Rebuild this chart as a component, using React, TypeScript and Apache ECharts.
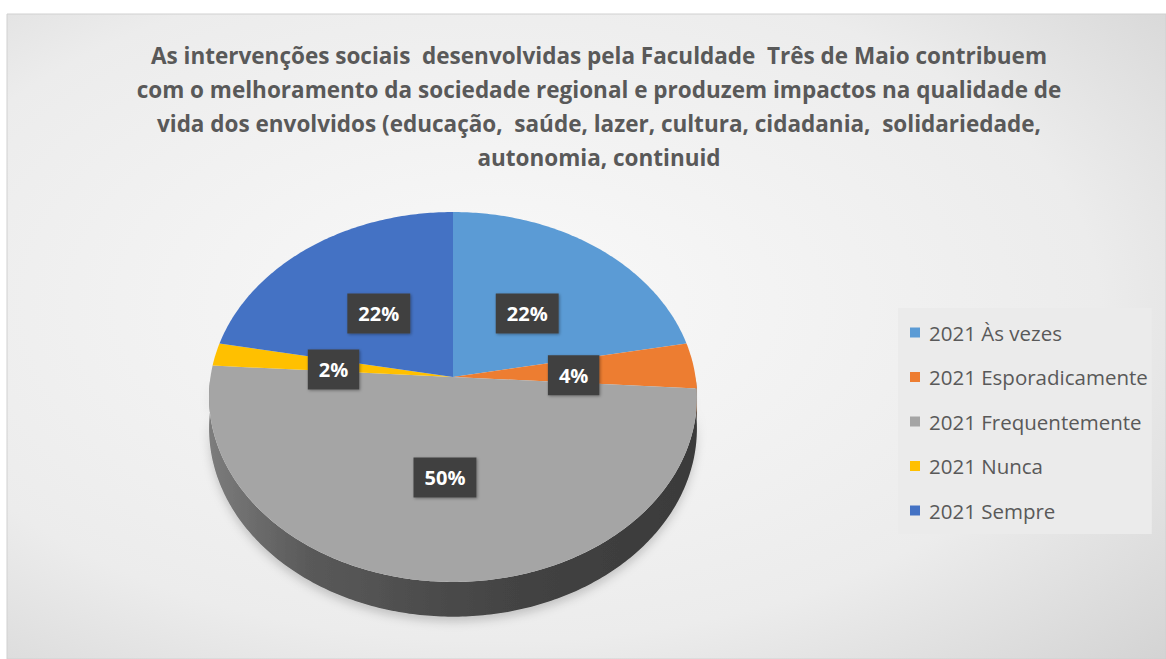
import React, { useEffect, useRef } from "react";
import * as echarts from "echarts";

// ---- data ----
const categories = [
  "2021 Às vezes",
  "2021 Esporadicamente",
  "2021 Frequentemente",
  "2021 Nunca",
  "2021 Sempre",
];
const values = [22, 4, 50, 2, 22];
const colors = ["#5B9BD5", "#ED7D31", "#A5A5A5", "#FFC000", "#4472C4"];
const wallColors = ["#2f5f8c", "#9a4a15", "#4a4a4a", "#a07800", "#284a86"];
const titleLines = [
  "As intervenções sociais  desenvolvidas pela Faculdade  Três de Maio contribuem",
  "com o melhoramento da sociedade regional e produzem impactos na qualidade de",
  "vida dos envolvidos (educação,  saúde, lazer, cultura, cidadania,  solidariedade,",
  "autonomia, continuid",
];

// ---- 3D pie projection (perspective ellipse) ----
const CX = 453;
const CY = 377;
const S = 242.5;
const A = 182.8;
const B = 0.108;
const DEPTH = 31;

function proj(deg: number, f: number, drop: number): number[] {
  const t = (deg * Math.PI) / 180;
  const u = Math.sin(t);
  const v = Math.cos(t);
  const k = 1 / (1 + B * f * v);
  return [CX + S * f * u * k, CY - A * f * v * k + drop * k];
}

function arcPoints(a0: number, a1: number, drop: number): number[][] {
  const pts: number[][] = [];
  const n = Math.max(2, Math.ceil((a1 - a0) / 0.75));
  for (let j = 0; j <= n; j++) {
    pts.push(proj(a0 + ((a1 - a0) * j) / n, 1, drop));
  }
  return pts;
}

const total = values.reduce((s, x) => s + x, 0);

function makeRenderItem(i: number) {
  return (params: any, api: any) => {
    let before = 0;
    for (let k = 0; k < i; k++) before += values[k];
    const v = api.value(0);
    const a0 = (before / total) * 360;
    const a1 = ((before + v) / total) * 360;
    const children: any[] = [];
    // side wall (front half only)
    const lo = Math.max(a0, 90);
    const hi = Math.min(a1, 270);
    if (lo < hi) {
      const top = arcPoints(lo, hi, 0);
      const bottom = arcPoints(lo, hi, DEPTH).reverse();
      children.push({
        type: "polygon",
        z2: 0,
        shape: { points: top.concat(bottom) },
        style: {
          fill:
            i === 2
              ? new echarts.graphic.LinearGradient(0, 0, 1, 0, [
                  { offset: 0, color: "#7c7c7c" },
                  { offset: 0.2, color: "#5a5a5a" },
                  { offset: 0.6, color: "#444444" },
                  { offset: 1, color: "#3a3a3a" },
                ])
              : wallColors[i],
          shadowColor: "rgba(0,0,0,0.18)",
          shadowBlur: 10,
          shadowOffsetY: 5,
        },
      });
    }
    // top face
    const facePts = [[CX, CY]].concat(arcPoints(a0, a1, 0));
    children.push({
      type: "polygon",
      z2: 10,
      shape: { points: facePts },
      style: { fill: colors[i] },
    });
    // label
    const mid = (a0 + a1) / 2;
    const lp = proj(mid, 0.5, 0);
    children.push({
      type: "text",
      z2: 20,
      x: lp[0],
      y: lp[1] + 4,
      style: {
        text: v + "%",
        fill: "#ffffff",
        font: "bold 20px 'Open Sans'",
        align: "center",
        verticalAlign: "middle",
        backgroundColor: "#404040",
        padding: [10, 11, 10, 11],
        shadowColor: "rgba(0,0,0,0.35)",
        shadowBlur: 3,
        shadowOffsetX: 1,
        shadowOffsetY: 1,
      },
    });
    return { type: "group", children };
  };
}

export default function App() {
  const ref = useRef<HTMLDivElement>(null);
  useEffect(() => {
    if (!ref.current) return;
    const chart = echarts.init(ref.current, null, { renderer: "svg" });
    chart.setOption({
      animation: false,
      backgroundColor: "#ffffff",
      color: colors,
      title: {
        text: titleLines.join("\n"),
        left: 599,
        top: 38,
        textAlign: "center",
        padding: 0,
        textStyle: {
          fontFamily: "Open Sans",
          fontWeight: "bold",
          fontSize: 22.5,
          lineHeight: 34,
          color: "#595959",
        },
      },
      graphic: [
        {
          type: "rect",
          z: -10,
          shape: { x: 7, y: 14, width: 1159, height: 645 },
          style: {
            fill: new echarts.graphic.RadialGradient(0.42, 0.45, 0.95, [
              { offset: 0, color: "#f9f9f9" },
              { offset: 0.55, color: "#ececec" },
              { offset: 1, color: "#c6c6c6" },
            ]),
            stroke: "#d0d0d0",
            lineWidth: 1,
          },
        },
      ],
      legend: {
        orient: "vertical",
        left: 898,
        top: 308,
        padding: [14, 4, 13, 12],
        backgroundColor: "#ebebeb",
        itemWidth: 10,
        itemHeight: 10,
        itemGap: 23.5,
        icon: "rect",
        selectedMode: false,
        data: categories,
        textStyle: {
          fontFamily: "Open Sans",
          fontSize: 20.5,
          lineHeight: 20,
          color: "#595959",
          padding: [0, 0, 0, 4],
        },
      },
      series: categories.map((name, i) => ({
        type: "custom",
        name,
        coordinateSystem: "none",
        itemStyle: { color: colors[i] },
        data: [[values[i]]],
        renderItem: makeRenderItem(i),
      })),
    });
    return () => chart.dispose();
  }, []);
  return (
    <div
      ref={ref}
      style={{ position: "fixed", left: 0, top: 0, width: 1166, height: 659 }}
    />
  );
}
